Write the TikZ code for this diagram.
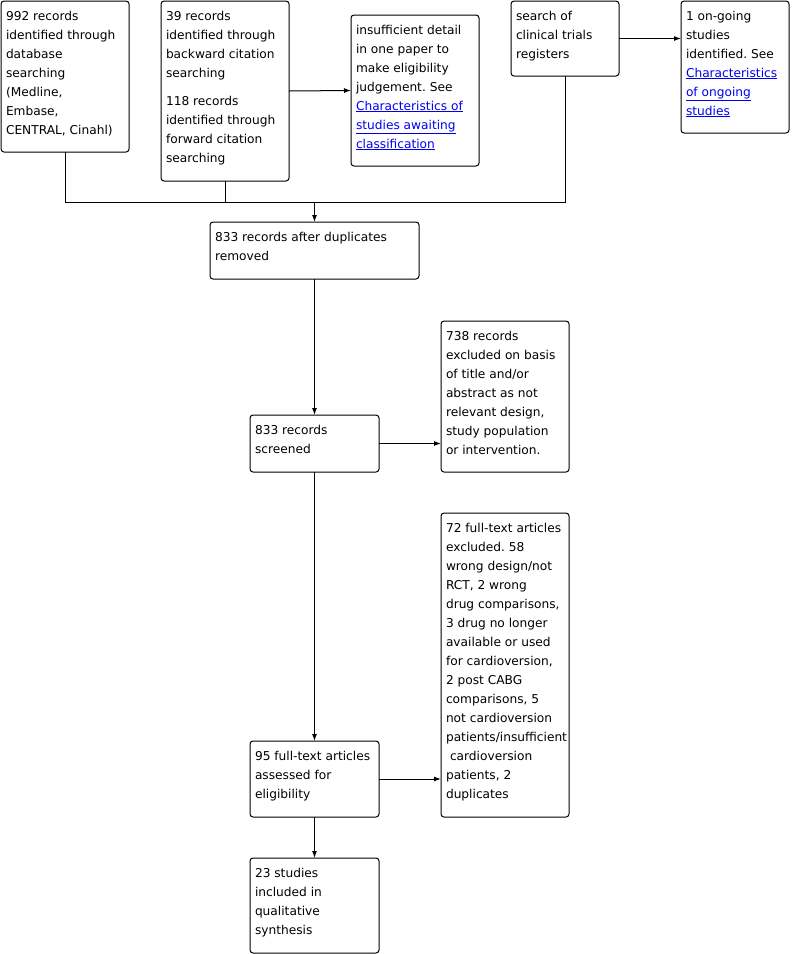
\documentclass[tikz,border=0pt]{standalone}
\usepackage{fontspec}
\setmainfont{DejaVu Sans}
\usetikzlibrary{arrows.meta}
\definecolor{linkblue}{RGB}{0,0,238}
\frenchspacing
\newcommand\bt[3]{\begin{minipage}[c][#2][t]{#1}\fontsize{12.2pt}{19pt}\selectfont\frenchspacing\raggedright\vspace*{9pt}\rule{0pt}{10pt}#3\end{minipage}}
\newcommand\lk[1]{\textcolor{linkblue}{\underline{#1}}}
\tikzset{
  box/.style={draw, line width=1pt, rounded corners=3pt, anchor=north west, inner xsep=5pt, inner ysep=0pt, outer sep=0pt},
  arr/.style={line width=1pt, -{Latex[length=7pt,width=5pt]}},
  ln/.style={line width=1pt}
}
\begin{document}
\begin{tikzpicture}[x=1pt,y=-1pt]
\useasboundingbox (0,0) rectangle (792,954);
\node[box] (A) at (1,1) {\bt{118pt}{151pt}{992 records\\identified through\\database\\searching\\(Medline,\\Embase,\\CENTRAL, Cinahl)}};
\node[box] (B) at (161,1) {\bt{118pt}{180pt}{39 records\\identified through\\backward citation\\searching\par\vspace{9pt}118 records\\identified through\\forward citation\\searching}};
\node[box] (C) at (351,15) {\bt{118pt}{151pt}{insufficient detail\\in one paper to\\make eligibility\\judgement. See\\\lk{Characteristics of}\\\lk{studies awaiting}\\\lk{classification}}};
\node[box] (D) at (511,1) {\bt{98pt}{75pt}{search of\\clinical trials\\registers}};
\node[box] (E) at (681,1) {\bt{98pt}{132pt}{1 on-going\\studies\\identified. See\\\lk{Characteristics}\\\lk{of ongoing}\\\lk{studies}}};
\node[box] (F) at (210,222) {\bt{199pt}{57pt}{833 records after duplicates\\removed}};
\node[box] (G) at (441,321) {\bt{118pt}{151pt}{738 records\\excluded on basis\\of title and/or\\abstract as not\\relevant design,\\study population\\or intervention.}};
\node[box] (H) at (250,415) {\bt{119pt}{57pt}{833 records\\screened}};
\node[box] (I) at (441,513) {\bt{118pt}{304pt}{72 full-text articles\\excluded. 58\\wrong design/not\\RCT, 2 wrong\\drug comparisons,\\3 drug no longer\\available or used\\for cardioversion,\\2 post CABG\\comparisons, 5\\not cardioversion\\patients/insufficient\\\hspace*{4pt}cardioversion\\patients, 2\\duplicates}};
\node[box] (J) at (250,741) {\bt{119pt}{76pt}{95 full-text articles\\assessed for\\eligibility}};
\node[box] (K) at (250,858) {\bt{119pt}{95pt}{23 studies\\included in\\qualitative\\synthesis}};
\coordinate (bus) at (0,202);
\draw[ln] (A.south) |- (D.south |- bus) -- (D.south);
\draw[ln] (B.south) -- (B.south |- bus);
\draw[arr] (F.north |- bus) -- (F.north);
\draw[arr] (B.east) -- (C.west);
\draw[arr] (D.east) -- (D.east -| E.west);
\draw[arr] (F.south) -- (H.north);
\draw[arr] (H.east) -- (H.east -| G.west);
\draw[arr] (H.south) -- (J.north);
\draw[arr] (J.east) -- (J.east -| I.west);
\draw[arr] (J.south) -- (K.north);
\end{tikzpicture}
\end{document}
